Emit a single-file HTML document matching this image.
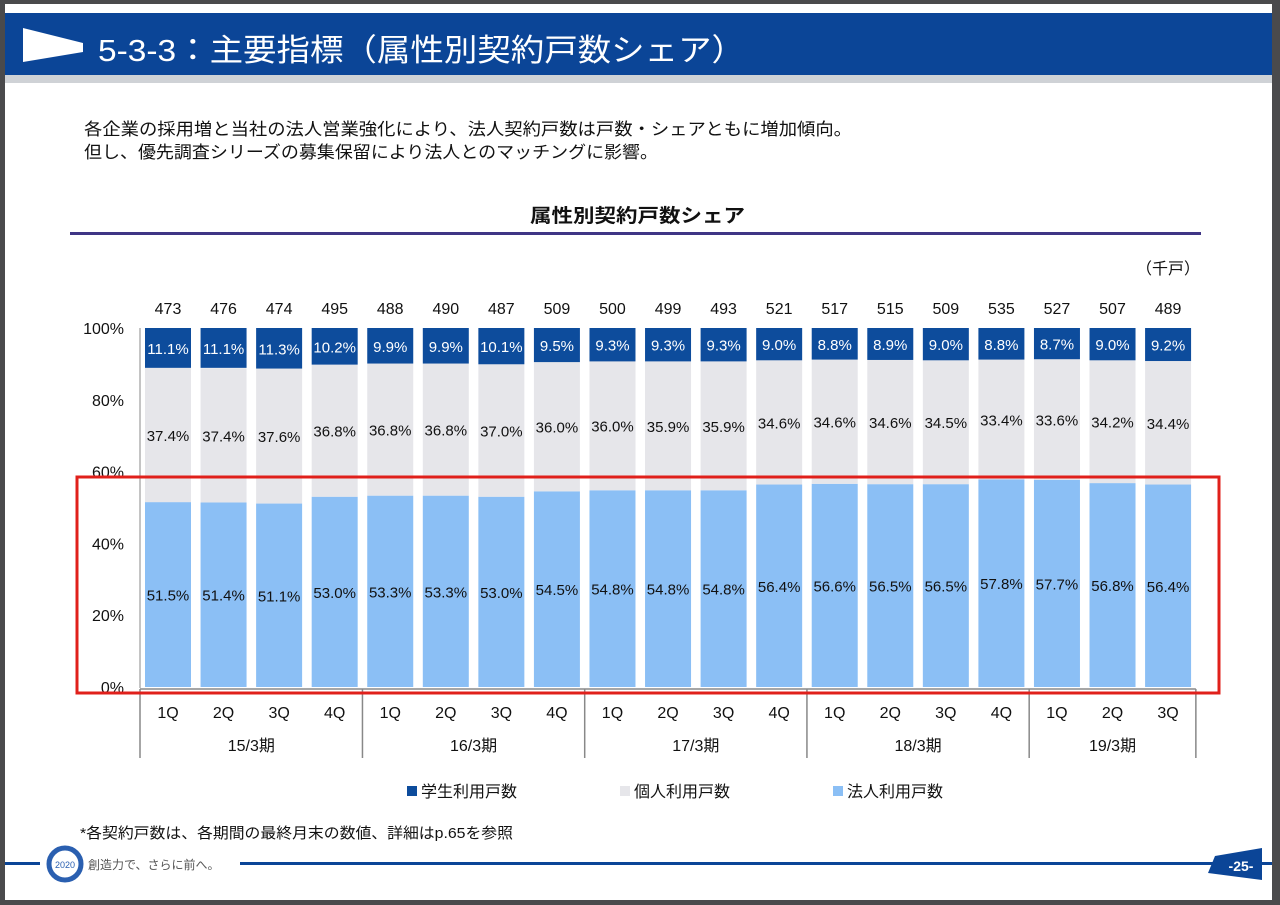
<!DOCTYPE html>
<html><head><meta charset="utf-8">
<style>
body{margin:0;width:1280px;height:905px;background:#4a4a4c;overflow:hidden;font-family:"Liberation Sans","Noto Sans CJK JP",sans-serif;}
#page{position:absolute;left:5px;top:4px;width:1267px;height:896px;background:#fff;}
</style></head><body>
<div id="page"></div>
<svg id="s" width="1280" height="905" style="position:absolute;left:0;top:0" font-family="Liberation Sans, Noto Sans CJK JP, sans-serif">
<rect x="5" y="13" width="1267" height="62" fill="#0b4597"/>
<rect x="5" y="75" width="1267" height="8" fill="#cfd2d6"/>
<polygon points="23,28 83,43 83,52 23,62" fill="#fff"/>
<text x="98" y="61" font-size="31" fill="#fff" textLength="647" lengthAdjust="spacingAndGlyphs">5-3-3：主要指標（属性別契約戸数シェア）</text>
<text x="84" y="135" font-size="17" fill="#111" textLength="768" lengthAdjust="spacingAndGlyphs">各企業の採用増と当社の法人営業強化により、法人契約戸数は戸数・シェアともに増加傾向。</text>
<text x="84" y="158" font-size="17" fill="#111" textLength="574" lengthAdjust="spacingAndGlyphs">但し、優先調査シリーズの募集保留により法人とのマッチングに影響。</text>
<text x="530" y="222" font-size="19" font-weight="bold" fill="#111" textLength="215" lengthAdjust="spacingAndGlyphs">属性別契約戸数シェア</text>
<rect x="70" y="232" width="1131" height="3" fill="#3f3585"/>
<text x="1200" y="274" font-size="16" text-anchor="end" fill="#111">（千戸）</text>
<g id="chart"></g>
<rect x="77" y="477" width="1142" height="216" fill="none" stroke="#e0201b" stroke-width="3"/>
<rect x="407" y="786" width="10" height="10" fill="#0d4c9c"/>
<text x="421" y="797" font-size="16" fill="#111">学生利用戸数</text>
<rect x="620" y="786" width="10" height="10" fill="#e6e6ea"/>
<text x="634" y="797" font-size="16" fill="#111">個人利用戸数</text>
<rect x="833" y="786" width="10" height="10" fill="#8bbff5"/>
<text x="847" y="797" font-size="16" fill="#111">法人利用戸数</text>
<text x="80" y="838" font-size="15" fill="#111" textLength="433" lengthAdjust="spacingAndGlyphs">*各契約戸数は、各期間の最終月末の数値、詳細はp.65を参照</text>
<rect x="5" y="862" width="1267" height="3" fill="#0b4597"/>
<rect x="40" y="848" width="200" height="32" fill="#fff"/>
<circle cx="65" cy="864" r="16" fill="none" stroke="#2a5fb0" stroke-width="5"/>
<text x="65" y="868" font-size="9" text-anchor="middle" fill="#2a5fb0">2020</text>
<text x="88" y="869" font-size="12" fill="#555">創造力で、さらに前へ。</text>
<polygon points="1215,856 1262,848 1262,880 1208,873" fill="#0b4597"/>
<text x="1241" y="871" font-size="14" font-weight="bold" text-anchor="middle" fill="#fff">-25-</text>
</svg>
<script>
const quarters=["1Q","2Q","3Q","4Q","1Q","2Q","3Q","4Q","1Q","2Q","3Q","4Q","1Q","2Q","3Q","4Q","1Q","2Q","3Q"];
const groups=["15/3期","16/3期","17/3期","18/3期","19/3期"];
const groupSizes=[4,4,4,4,3];
const totals=[473,476,474,495,488,490,487,509,500,499,493,521,517,515,509,535,527,507,489];
const student=[11.1,11.1,11.3,10.2,9.9,9.9,10.1,9.5,9.3,9.3,9.3,9.0,8.8,8.9,9.0,8.8,8.7,9.0,9.2];
const individual=[37.4,37.4,37.6,36.8,36.8,36.8,37.0,36.0,36.0,35.9,35.9,34.6,34.6,34.6,34.5,33.4,33.6,34.2,34.4];
const corporate=[51.5,51.4,51.1,53.0,53.3,53.3,53.0,54.5,54.8,54.8,54.8,56.4,56.6,56.5,56.5,57.8,57.7,56.8,56.4];
const yTicks=[0,20,40,60,80,100];

const g=document.getElementById('chart');
const NS="http://www.w3.org/2000/svg";
const y0=687,y100=328,step=55.56,x0=168,bw=46;
const yS=v=>y0-(y0-y100)*v/100;
const xC=i=>x0+i*step;
function el(t,a,txt){const e=document.createElementNS(NS,t);for(const k in a)e.setAttribute(k,a[k]);if(txt!=null)e.textContent=txt;g.appendChild(e);return e;}
yTicks.forEach(v=>{
 const t=el('text',{x:124,y:yS(v)+6,'font-size':16,'text-anchor':'end',fill:'#111'},v+'%');
 
 
});
quarters.forEach((q,i)=>{
 const cx=xC(i),l=cx-bw/2;
 const c=corporate[i],ind=individual[i],s=student[i];
 let r=el('rect',{x:l,y:yS(c),width:bw,height:yS(0)-yS(c),fill:'#8bbff5'});
 
 
 r=el('rect',{x:l,y:yS(c+ind),width:bw,height:yS(c)-yS(c+ind),fill:'#e6e6ea'});
 
 
 r=el('rect',{x:l,y:yS(100),width:bw,height:yS(100-s)-yS(100),fill:'#0d4c9c'});
 
 
 let t=el('text',{x:cx,y:yS(c/2)+6,'font-size':15,'text-anchor':'middle',fill:'#111'},c.toFixed(1)+'%');
 
 
 t=el('text',{x:cx,y:yS(c+ind/2)+6,'font-size':15,'text-anchor':'middle',fill:'#111'},ind.toFixed(1)+'%');
 
 
 t=el('text',{x:cx,y:yS(100-s/2)+6,'font-size':15,'text-anchor':'middle',fill:'#fff'},s.toFixed(1)+'%');
 
 
 t=el('text',{x:cx,y:314,'font-size':16,'text-anchor':'middle',fill:'#111'},totals[i]);
 
 
 t=el('text',{x:cx,y:718,'font-size':16,'text-anchor':'middle',fill:'#111'},q);
 
 
});
let a=el('line',{x1:140,y1:328,x2:140,y2:688,stroke:'#888','stroke-width':1});


a=el('line',{x1:140,y1:689,x2:xC(quarters.length-1)+step/2,y2:689,stroke:'#888','stroke-width':1.5});


let idx=0;
groups.forEach((gn,k)=>{
 const start=idx,end=idx+groupSizes[k]-1;
 const left=k===0?140:xC(start)-step/2;
 let ln=el('line',{x1:left,y1:689,x2:left,y2:758,stroke:'#888','stroke-width':1.5});
 
 
 const t=el('text',{x:(xC(start)+xC(end))/2,y:751,'font-size':16,'text-anchor':'middle',fill:'#111'},gn);
 
 
 idx+=groupSizes[k];
});
const rx=xC(quarters.length-1)+step/2;
let ln=el('line',{x1:rx,y1:689,x2:rx,y2:758,stroke:'#888','stroke-width':1.5});


</script>
</body></html>
